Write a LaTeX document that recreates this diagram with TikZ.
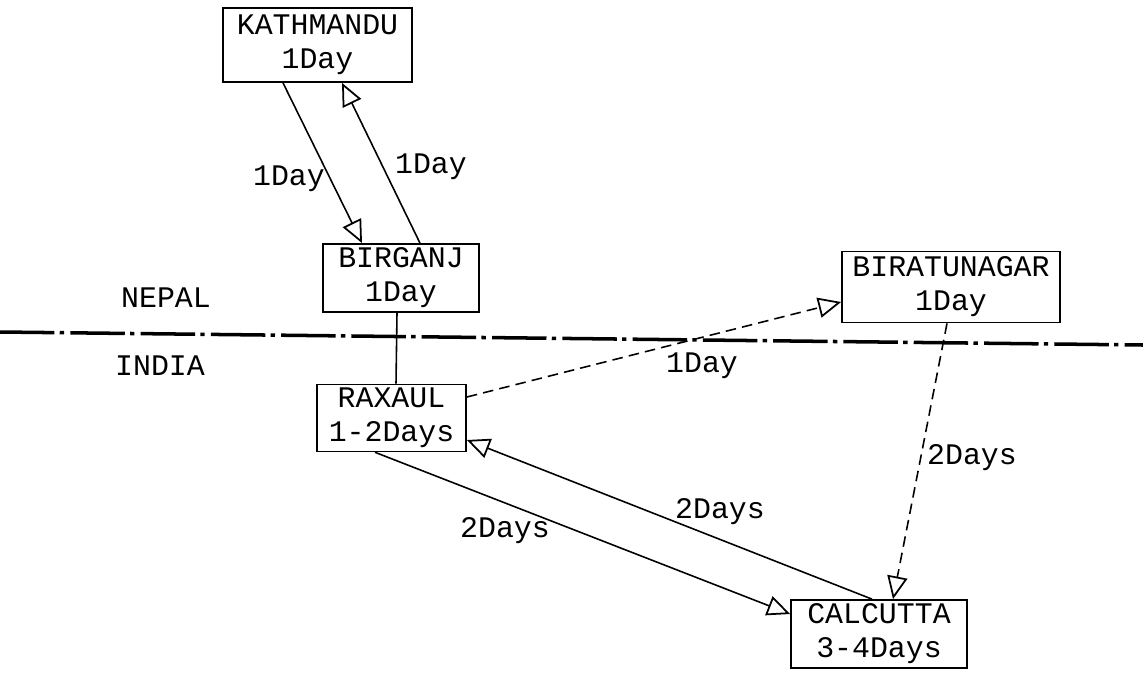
\documentclass[tikz,border=0pt]{standalone}
\usepackage{fontspec}
\setmonofont{Liberation Mono}
\usetikzlibrary{arrows.meta}

\begin{document}
\begin{tikzpicture}[font=\ttfamily\fontsize{17}{19.3}\selectfont,
  town/.style={draw,line width=1pt,align=center,inner sep=2pt},
  route/.style={line width=0.9pt,-{Triangle[open,length=13pt,width=11.5pt,line width=1pt]}},
  road/.style={route,dash pattern=on 6pt off 3.5pt},
  border/.style={line width=2pt,dash pattern=on 31pt off 3pt on 2.5pt off 3.5pt}]
\useasboundingbox (0,0) rectangle (22.86,-13.5);
% towns
\node[town,minimum width=3.78cm,minimum height=1.48cm] (kath) at (6.35,-0.9) {KATHMANDU\\1Day};
\node[town,minimum width=3.12cm,minimum height=1.36cm] (birg) at (8.02,-5.56) {BIRGANJ\\1Day};
\node[town,minimum width=4.36cm,minimum height=1.42cm] (birat) at (19.02,-5.74) {BIRATUNAGAR\\1Day};
\node[town,minimum width=2.98cm,minimum height=1.32cm] (rax) at (7.83,-8.36) {RAXAUL\\1-2Days};
\node[town,minimum width=3.52cm,minimum height=1.36cm] (calc) at (17.58,-12.68) {CALCUTTA\\3-4Days};
% frontier
\draw[border] (0,-6.64) -- (22.86,-6.9);
\node (nepal) at (3.32,-5.96) {NEPAL};
\node (india) at (3.2,-7.32) {INDIA};
% routes
\draw[route] ([xshift=-0.69cm]kath.south) -- ([xshift=-0.78cm]birg.north);
\draw[route] ([xshift=0.38cm]birg.north) -- ([xshift=0.49cm]kath.south);
\draw[line width=0.9pt] ([xshift=-0.08cm]birg.south) -- ([xshift=0.09cm]rax.north);
\draw[road] ([yshift=0.42cm]rax.east) -- ([yshift=-0.3cm]birat.west);
\draw[road] ([xshift=-0.08cm]birat.south) -- ([xshift=0.28cm]calc.north);
\draw[route] ([xshift=-0.33cm]rax.south) -- ([yshift=0.4cm]calc.west);
\draw[route] ([xshift=-0.14cm]calc.north) -- ([yshift=-0.44cm]rax.east);
% travel times
\node (t1) at (5.78,-3.58) {1Day};
\node (t2) at (8.62,-3.34) {1Day};
\node (t3) at (14.04,-7.32) {1Day};
\node (t4) at (19.44,-9.16) {2Days};
\node (t5) at (14.4,-10.24) {2Days};
\node (t6) at (10.1,-10.62) {2Days};
\end{tikzpicture}
\end{document}
